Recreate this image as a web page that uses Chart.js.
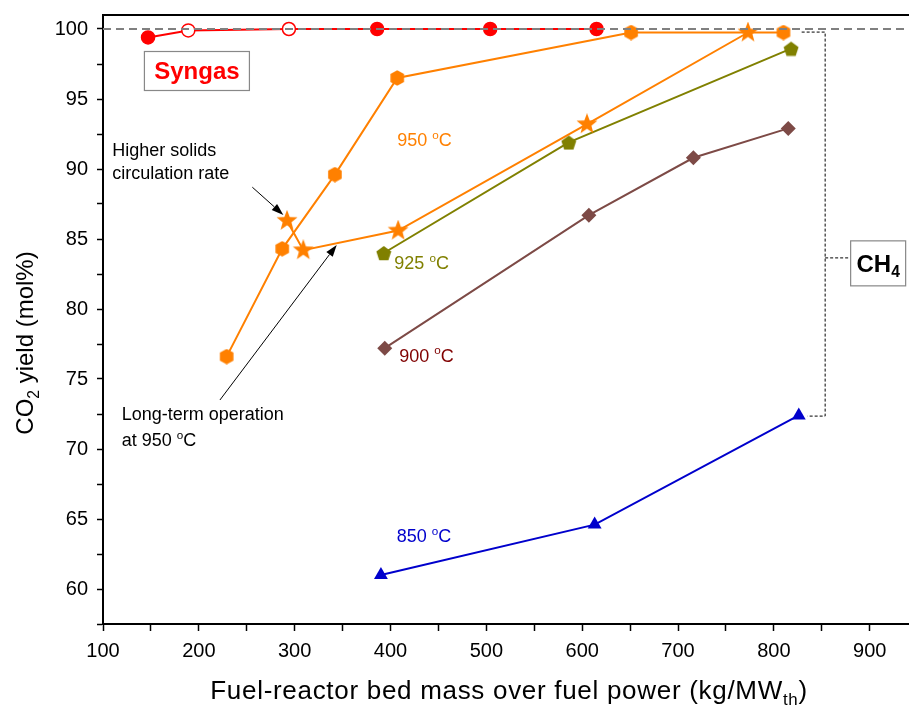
<!DOCTYPE html>
<html>
<head>
<meta charset="utf-8">
<script src="https://cdn.jsdelivr.net/npm/chart.js@4.4.1/dist/chart.umd.min.js"></script>
<style>
  html, body { margin: 0; padding: 0; background: #fff; }
  #wrap { width: 909px; height: 708px; position: relative; }
</style>
</head>
<body>
<div id="wrap"><canvas id="chart"></canvas></div>
<script>
// CO2 yield vs fuel-reactor bed mass / fuel power
const syngasX = [147, 189, 294, 386, 504, 615];
const syngasY = [99.4, 99.9, 100, 100, 100, 100];
const syngasOpen = [false, true, true, false, false, false];

const t950X = [229, 287, 342, 407, 651, 810];
const t950Y = [76.6, 84.3, 89.6, 96.5, 99.75, 99.75];

// long-term operation at 950 C (stars)
const t950LongX = [292, 309, 408, 605, 773];
const t950LongY = [86.3, 84.2, 85.6, 93.2, 99.75];

const t925X = [393, 586, 818];
const t925Y = [84.0, 91.9, 98.6];

const t900X = [394, 607, 716, 815];
const t900Y = [77.2, 86.7, 90.8, 92.9];

const t850X = [390, 613, 826];
const t850Y = [61.0, 64.6, 72.4];

const refLineX = [100, 941];
const refLineY = [100, 100];

const X_MIN = 100, X_MAX = 941;
const Y_MIN = 57.5, Y_MAX = 101;

const FONT = "'Liberation Sans', Arial, sans-serif";
const RED = '#ff0000', ORANGE = '#ff8000', OLIVE = '#808000',
      BROWN = '#7d4a46', BLUE = '#0000cc';

const pts = (xs, ys) => xs.map((x, i) => ({ x, y: ys[i] }));

// marker sprites for shapes chart.js doesn't have
function shape(kind, size, color) {
  const c = document.createElement('canvas');
  c.width = c.height = size;
  const g = c.getContext('2d');
  const r = size / 2;
  g.fillStyle = color;
  g.beginPath();
  let n, radii;
  if (kind === 'hex') { n = 6; radii = [r * 0.98]; }
  else if (kind === 'pent') { n = 5; radii = [r * 0.98]; }
  else { n = 10; radii = [r, r * 0.42]; }
  for (let i = 0; i < n; i++) {
    const a = -Math.PI / 2 + i * 2 * Math.PI / n;
    const rr = radii[i % radii.length];
    const px = r + rr * Math.cos(a), py = r + rr * Math.sin(a) + (kind === 'pent' ? r * 0.1 : 0);
    if (i === 0) g.moveTo(px, py); else g.lineTo(px, py);
  }
  g.closePath();
  g.fill();
  return c;
}

const hexMark = shape('hex', 16, ORANGE);
const starMark = shape('star', 22, ORANGE);
const pentMark = shape('pent', 16, OLIVE);

const datasets = [
  {
    data: pts(refLineX, refLineY),
    borderColor: '#808080', borderWidth: 2, borderDash: [8, 5],
    pointRadius: 0
  },
  {
    data: pts(syngasX, syngasY),
    borderColor: RED, borderWidth: 2,
    pointRadius: 6.5, pointBorderWidth: 1.5, pointBorderColor: RED,
    pointBackgroundColor: syngasOpen.map(o => o ? '#fff' : RED)
  },
  {
    data: pts(t950X, t950Y),
    borderColor: ORANGE, borderWidth: 2, pointStyle: hexMark
  },
  {
    data: pts(t950LongX, t950LongY),
    borderColor: ORANGE, borderWidth: 2, pointStyle: starMark
  },
  {
    data: pts(t925X, t925Y),
    borderColor: OLIVE, borderWidth: 2, pointStyle: pentMark
  },
  {
    data: pts(t900X, t900Y),
    borderColor: BROWN, borderWidth: 2, pointStyle: 'rectRot',
    pointRadius: 7.5, pointBackgroundColor: BROWN, pointBorderColor: BROWN, pointBorderWidth: 0
  },
  {
    data: pts(t850X, t850Y),
    borderColor: BLUE, borderWidth: 2, pointStyle: 'triangle',
    pointRadius: 8, pointBackgroundColor: BLUE, pointBorderColor: BLUE, pointBorderWidth: 0
  }
];

// rich text: parts = [[text, ''|'sub'|'sup'], ...]
function richWidth(ctx, parts, size, weight) {
  let w = 0;
  parts.forEach(([t, k]) => {
    const s = k ? size * 0.65 : size;
    ctx.font = `${weight} ${s}px ${FONT}`;
    w += ctx.measureText(t).width;
  });
  return w;
}
function drawRich(ctx, parts, x, y, size, color, align, weight) {
  weight = weight || 'normal';
  const w = richWidth(ctx, parts, size, weight);
  let cx = align === 'center' ? x - w / 2 : x;
  const base = y + size * 0.35;
  ctx.fillStyle = color;
  ctx.textBaseline = 'alphabetic';
  ctx.textAlign = 'left';
  parts.forEach(([t, k]) => {
    const s = k ? size * 0.65 : size;
    ctx.font = `${weight} ${s}px ${FONT}`;
    const dy = k === 'sub' ? size * 0.22 : k === 'sup' ? -size * 0.4 : 0;
    ctx.fillText(t, cx, base + dy);
    cx += ctx.measureText(t).width;
  });
  return w;
}

function arrow(ctx, x1, y1, x2, y2) {
  const a = Math.atan2(y2 - y1, x2 - x1), L = 12, W = 4;
  ctx.strokeStyle = '#000'; ctx.fillStyle = '#000'; ctx.lineWidth = 1;
  ctx.beginPath();
  ctx.moveTo(x1, y1);
  ctx.lineTo(x2 - L * Math.cos(a), y2 - L * Math.sin(a));
  ctx.stroke();
  ctx.beginPath();
  ctx.moveTo(x2, y2);
  ctx.lineTo(x2 - L * Math.cos(a) + W * Math.sin(a), y2 - L * Math.sin(a) - W * Math.cos(a));
  ctx.lineTo(x2 - L * Math.cos(a) - W * Math.sin(a), y2 - L * Math.sin(a) + W * Math.cos(a));
  ctx.closePath();
  ctx.fill();
}

const deg = (n) => [[n + ' ', ''], ['o', 'sup'], ['C', '']];

const notes = [
  { x: 407, y: 92.1, parts: deg('950'), color: ORANGE },
  { x: 404, y: 83.3, parts: deg('925'), color: OLIVE },
  { x: 409, y: 76.7, parts: deg('900'), color: '#800000' },
  { x: 406.5, y: 63.8, parts: deg('850'), color: BLUE },
  { x: 109.7, y: 91.4, parts: [['Higher solids', '']], color: '#000' },
  { x: 109.7, y: 89.75, parts: [['circulation rate', '']], color: '#000' },
  { x: 119.5, y: 72.55, parts: [['Long-term operation', '']], color: '#000' },
  { x: 119.5, y: 70.65, parts: [['at 950 ', ''], ['o', 'sup'], ['C', '']], color: '#000' }
];

const decor = {
  id: 'decor',
  afterDatasetsDraw(chart) {
    const { ctx, chartArea: ca, scales: { x, y } } = chart;
    const X = v => x.getPixelForValue(v), Y = v => y.getPixelForValue(v);
    ctx.save();

    // top frame line
    ctx.strokeStyle = '#000'; ctx.lineWidth = 2;
    ctx.beginPath(); ctx.moveTo(ca.left, ca.top); ctx.lineTo(ca.right, ca.top); ctx.stroke();

    // CH4 bracket
    ctx.strokeStyle = '#000'; ctx.lineWidth = 1; ctx.setLineDash([3, 2]);
    ctx.beginPath();
    ctx.moveTo(X(829), Y(99.78)); ctx.lineTo(X(853.5), Y(99.78));
    ctx.lineTo(X(853.5), Y(72.35)); ctx.lineTo(X(835), Y(72.35));
    ctx.moveTo(X(853.5), Y(83.65)); ctx.lineTo(X(877.5), Y(83.65));
    ctx.stroke();
    ctx.setLineDash([]);

    // arrows
    arrow(ctx, X(255.8), Y(88.7), X(288.2), Y(86.72));
    arrow(ctx, X(222), Y(73.5), X(343.9), Y(84.58));

    notes.forEach(n => drawRich(ctx, n.parts, X(n.x), Y(n.y), 18, n.color, 'left'));

    // boxed labels
    const sx = X(198), sy = Y(97.0);
    drawRich(ctx, [['Syngas', '']], sx, sy, 24, RED, 'center', 'bold');
    ctx.strokeStyle = '#888'; ctx.lineWidth = 1.2;
    ctx.strokeRect(sx - 52.5, sy - 19.5, 105, 39);

    const cx = X(908.8), cy = Y(83.26);
    drawRich(ctx, [['CH', ''], ['4', 'sub']], cx, cy, 24, '#000', 'center', 'bold');
    ctx.strokeRect(cx - 27.5, cy - 22.5, 55, 45);

    // axis titles
    ctx.letterSpacing = '0.7px';
    drawRich(ctx, [['Fuel-reactor bed mass over fuel power (kg/MW', ''], ['th', 'sub'], [')', '']],
      509, 690, 26, '#000', 'center');
    ctx.letterSpacing = '0px';
    ctx.translate(25, 343);
    ctx.rotate(-Math.PI / 2);
    drawRich(ctx, [['CO', ''], ['2', 'sub'], [' yield (mol%)', '']], 0, 0, 24, '#000', 'center');
    ctx.restore();
  }
};

new Chart(document.getElementById('chart'), {
  type: 'line',
  data: { datasets },
  options: {
    responsive: true,
    maintainAspectRatio: false,
    animation: false,
    layout: { autoPadding: false, padding: { top: 15, right: 0, left: 0, bottom: 0 } },
    elements: { line: { tension: 0 }, point: { radius: 8 } },
    plugins: { legend: { display: false }, tooltip: { enabled: false } },
    scales: {
      x: {
        type: 'linear', min: X_MIN, max: X_MAX,
        afterFit(s) { s.height = 84; s.paddingLeft = 0; s.paddingRight = 0; },
        grid: { drawOnChartArea: false, tickLength: 7, tickColor: '#000', tickWidth: 1.5 },
        border: { color: '#000', width: 2 },
        ticks: {
          stepSize: 50, includeBounds: false, autoSkip: false, maxRotation: 0, maxTicksLimit: 100,
          padding: 8, color: '#000', font: { family: FONT, size: 20 },
          callback: v => v % 100 === 0 ? String(v) : ''
        }
      },
      y: {
        type: 'linear', min: Y_MIN, max: Y_MAX,
        afterFit(s) { s.width = 103; s.paddingTop = 0; s.paddingBottom = 0; },
        grid: { drawOnChartArea: false, tickLength: 6, tickColor: '#000', tickWidth: 1.5 },
        border: { color: '#000', width: 2 },
        ticks: {
          stepSize: 2.5, includeBounds: false, autoSkip: false, maxTicksLimit: 100,
          padding: 9, color: '#000', font: { family: FONT, size: 20 },
          callback: v => v % 5 === 0 ? String(v) : ''
        }
      }
    }
  },
  plugins: [decor]
});
</script>
</body>
</html>
